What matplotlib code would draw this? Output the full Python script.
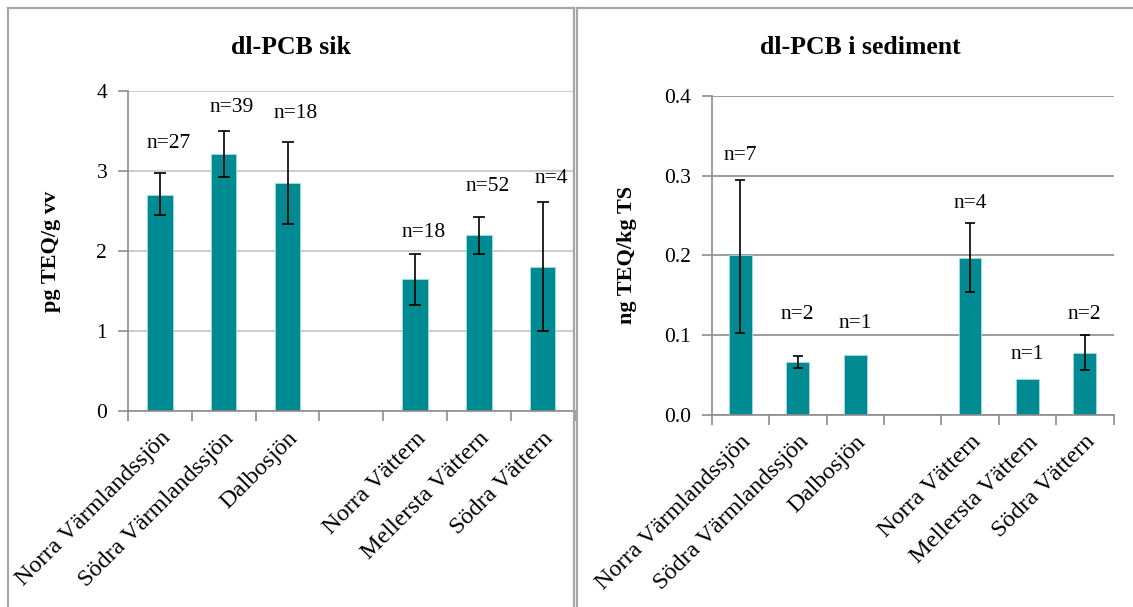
import numpy as np
import matplotlib
matplotlib.use("Agg")
import matplotlib.pyplot as plt
from matplotlib.lines import Line2D

# ---------------- data ----------------
categories = ["Norra Värmlandssjön", "Södra Värmlandssjön", "Dalbosjön", "",
              "Norra Vättern", "Mellersta Vättern", "Södra Vättern"]

fish_values = [2.70, 3.21, 2.85, np.nan, 1.65, 2.20, 1.80]
fish_err_low = [2.45, 2.92, 2.34, np.nan, 1.33, 1.96, 1.00]
fish_err_high = [2.97, 3.50, 3.36, np.nan, 1.96, 2.43, 2.61]
fish_n = ["n=27", "n=39", "n=18", "", "n=18", "n=52", "n=4"]

sed_values = [0.200, 0.066, 0.075, np.nan, 0.197, 0.0445, 0.078]
sed_err_low = [0.103, 0.059, np.nan, np.nan, 0.154, np.nan, 0.056]
sed_err_high = [0.295, 0.074, np.nan, np.nan, 0.241, np.nan, 0.1005]
sed_n = ["n=7", "n=2", "n=1", "", "n=4", "n=1", "n=2"]

# layout: label heights (data units)
fish_label_y = [3.35, 3.80, 3.72, np.nan, 2.23, 2.81, 2.91]
sed_label_y = [0.325, 0.1265, 0.115, np.nan, 0.265, 0.076, 0.1256]

BAR = "#008A92"
SERIF = ["Liberation Serif", "DejaVu Serif"]
plt.rcParams["font.family"] = SERIF

W, H = 1133, 607
fig = plt.figure(figsize=(W / 100, H / 100), dpi=100)


def px_axes(x0, x1, ytop, ybot):
    return [x0 / W, (H - ybot) / H, (x1 - x0) / W, (ybot - ytop) / H]


def draw(ax, vals, lo, hi, labels, label_y, ymax, ystep, fmt, grid_col,
         capsize, label_dx):
    x = np.arange(len(categories))
    v = np.array(vals, dtype=float)
    ax.bar(x, np.nan_to_num(v), width=0.4, color=BAR, edgecolor="#9fdde3",
           linewidth=0.6, zorder=3)
    lo = np.array(lo, dtype=float)
    hi = np.array(hi, dtype=float)
    m = ~np.isnan(lo)
    ax.errorbar(x[m], v[m], yerr=[v[m] - lo[m], hi[m] - v[m]], fmt="none",
                ecolor="black", elinewidth=1.2, capsize=capsize, capthick=1.2,
                zorder=4)
    for xi, lab, ly in zip(x, labels, label_y):
        if lab:
            ax.annotate(lab, (xi, ly), xytext=(label_dx, 0),
                        textcoords="offset points", ha="center", va="center",
                        fontsize=15.5, zorder=5)
    ax.set_xlim(-0.5, len(categories) - 0.5)
    ax.set_ylim(0, ymax)
    ticks = np.arange(0, ymax + ystep / 2, ystep)
    ax.set_yticks(ticks)
    ax.set_yticklabels([fmt.format(t) for t in ticks], fontsize=15.5)
    ax.set_xticks(x)
    ax.set_xticklabels(categories, rotation=45, ha="right", va="top",
                       rotation_mode="anchor", fontsize=17.5)
    ax.set_xticks(np.arange(-0.5, len(categories)), minor=True)
    ax.tick_params(axis="x", which="major", length=0, pad=12)
    ax.tick_params(axis="x", which="minor", length=7, color="#8c8c8c",
                   width=1.2, direction="out")
    ax.tick_params(axis="y", length=7, color="#8c8c8c", width=1.2,
                   direction="out", pad=8)
    ax.yaxis.grid(True, color=grid_col, linewidth=1.2, zorder=0)
    ax.set_axisbelow(True)
    for s in ("top", "right"):
        ax.spines[s].set_visible(False)
    for s in ("left", "bottom"):
        ax.spines[s].set_color("#8c8c8c")
        ax.spines[s].set_linewidth(1.2)
    ax.spines["bottom"].set_zorder(6)


ax1 = fig.add_axes(px_axes(128, 574.6, 91, 411))
draw(ax1, fish_values, fish_err_low, fish_err_high, fish_n, fish_label_y,
     4, 1, "{:.0f}", "#c4c4c4", 4.3, 6)

ax2 = fig.add_axes(px_axes(711.7, 1113.5, 96.3, 414.7))
draw(ax2, sed_values, sed_err_low, sed_err_high, sed_n, sed_label_y,
     0.4, 0.1, "{:.1f}", "#8c8c8c", 3.6, 0)

# titles and y labels placed in figure pixels
fig.text(291 / W, 1 - 47 / H, "dl-PCB sik", ha="center", va="center",
         fontsize=18.5, fontweight="bold")
fig.text(860 / W, 1 - 47 / H, "dl-PCB i sediment", ha="center", va="center",
         fontsize=18.5, fontweight="bold")
fig.text(51 / W, 1 - 251 / H, "pg TEQ/g vv", ha="center", va="center",
         rotation=90, fontsize=16, fontweight="bold")
fig.text(627 / W, 1 - 255 / H, "ng TEQ/kg TS", ha="center", va="center",
         rotation=90, fontsize=16, fontweight="bold")

# panel borders
bc = "#a6a6a6"
def fline(xs, ys):
    fig.add_artist(Line2D([x / W for x in xs], [1 - y / H for y in ys],
                          color=bc, linewidth=1.6, transform=fig.transFigure))

fline([8, 8], [8, H + 2])
fline([8, 574], [8, 8])
fline([574, 574], [8, H + 2])
fline([577, 577], [8, H + 2])
fline([577, W + 2], [8, 8])

fig.savefig("out.png", dpi=100)
